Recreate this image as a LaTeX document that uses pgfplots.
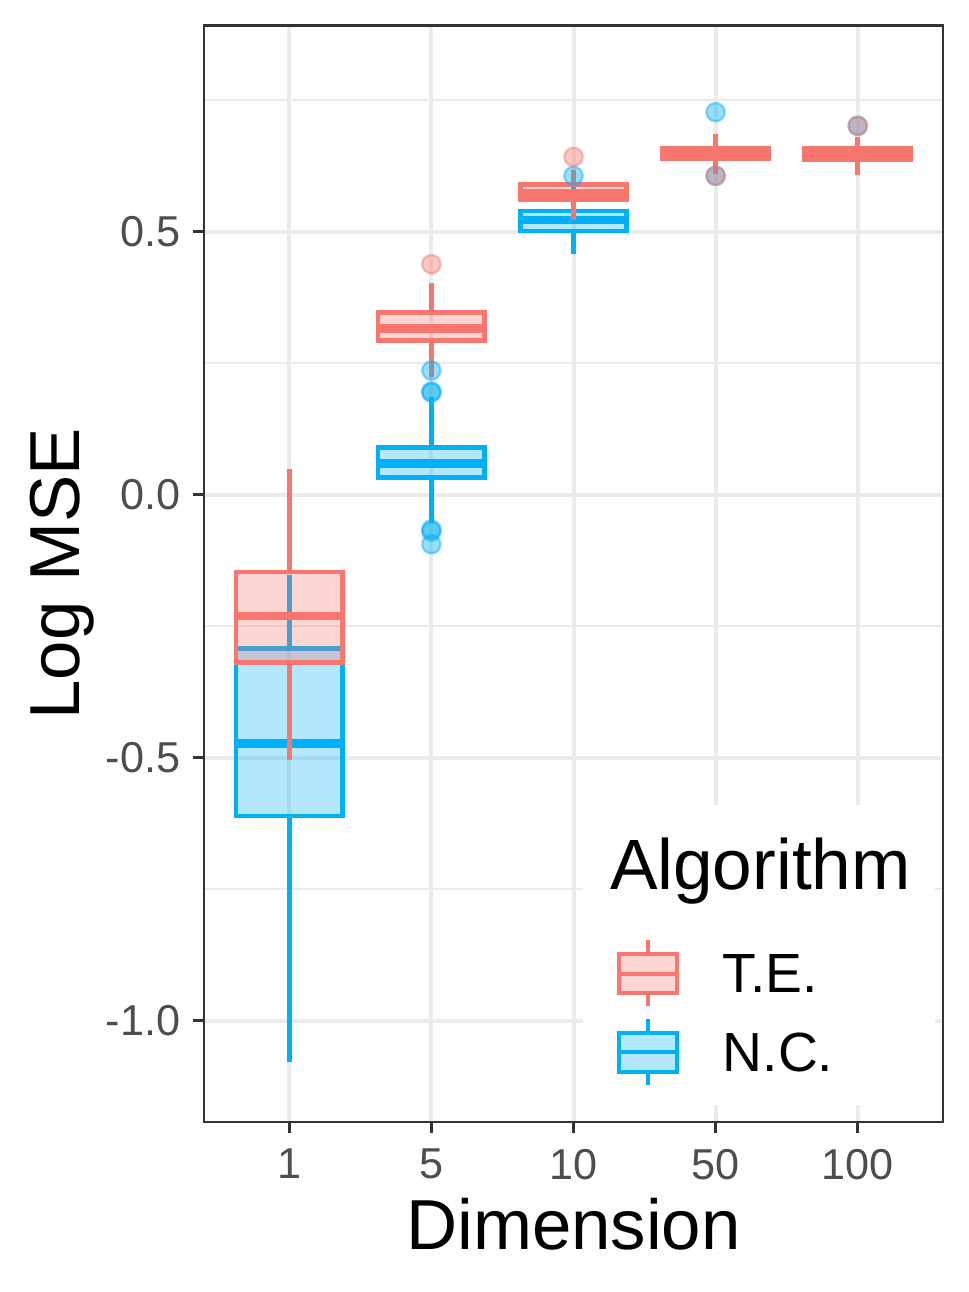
\documentclass[border=0pt]{standalone}
\usepackage{pgfplots}
\pgfplotsset{compat=1.18}
\usepgfplotslibrary{statistics}
\usepackage{fontspec}
\setmainfont{Liberation Sans}
\definecolor{tered}{HTML}{F8766D}
\definecolor{ncblue}{HTML}{00B0F6}
\definecolor{gridc}{HTML}{EBEBEB}
\definecolor{axc}{HTML}{333333}
\definecolor{tickc}{HTML}{4D4D4D}
\pgfplotsset{
  ncbox/.style={draw=ncblue, fill=ncblue, fill opacity=0.3, line width=1.2pt,
    mark=*, mark size=2.3pt,
    mark options={fill=ncblue, fill opacity=0.4, draw=ncblue, draw opacity=0.45, line width=0.6pt}},
  tebox/.style={draw=tered, fill=tered, fill opacity=0.3, line width=1.2pt,
    mark=*, mark size=2.3pt,
    mark options={fill=tered, fill opacity=0.4, draw=tered, draw opacity=0.45, line width=0.6pt}},
}
\begin{document}
\begin{tikzpicture}
\path[use as bounding box] (0,0) rectangle (242.25pt,323pt);
\begin{axis}[
  at={(51pt,42.425pt)}, anchor=south west,
  scale only axis, width=184.75pt, height=274.2pt,
  xmin=-0.6, xmax=4.6, ymin=-1.1927, ymax=0.8917,
  xtick={0,1,2,3,4}, xticklabels={1,5,10,50,100},
  ytick={-1,-0.5,0,0.5}, yticklabels={-1.0,-0.5,0.0,0.5},
  minor ytick={-0.75,-0.25,0.25,0.75},
  xmajorgrids, ymajorgrids, yminorgrids,
  major grid style={gridc, line width=1pt},
  minor grid style={gridc, line width=0.5pt},
  tick align=outside, tick pos=left,
  major tick length=2.75pt, minor tick length=0pt,
  tick style={axc, line width=0.8pt},
  axis line style={axc, line width=0.55pt},
  /pgf/number format/assume math mode=true,
  ticklabel style={font=\fontsize{10.8}{13}\selectfont, text=tickc},
  xticklabel style={anchor=north, inner sep=0pt, yshift=-3.7pt},
  yticklabel style={anchor=east, inner sep=0pt, xshift=-3pt},
  xlabel={Dimension},
  xlabel style={font=\fontsize{17.7}{20}\selectfont, at={(axis description cs:0.5,-0.1164)}, anchor=base, inner sep=0pt},
  ylabel={Log MSE},
  ylabel style={font=\fontsize{17.7}{20}\selectfont, at={(axis description cs:-0.169,0.5)}, anchor=base, inner sep=0pt},
  boxplot/draw direction=y,
  boxplot/box extend=0.75,
  boxplot/whisker extend=0,
  boxplot/every median/.style={line width=2.2pt},
]
% ---- N.C. (drawn first) ----
\addplot[ncbox, boxplot prepared={draw position=0, lower whisker=-1.078, lower quartile=-0.6106, median=-0.473, upper quartile=-0.2923, upper whisker=-0.152}]
  table[row sep=\\, y index=0] {y\\};
\addplot[ncbox, boxplot prepared={draw position=1, lower whisker=-0.054, lower quartile=0.0327, median=0.0597, upper quartile=0.0897, upper whisker=0.185}]
  table[row sep=\\, y index=0] {y\\ 0.236\\ 0.196\\ 0.194\\ -0.066\\ -0.070\\ -0.094\\};
\addplot[ncbox, boxplot prepared={draw position=2, lower whisker=0.457, lower quartile=0.501, median=0.522, upper quartile=0.539, upper whisker=0.585}]
  table[row sep=\\, y index=0] {y\\ 0.606\\};
\addplot[ncbox, boxplot prepared={draw position=3, lower whisker=0.612, lower quartile=0.638, median=0.648, upper quartile=0.658, upper whisker=0.683}]
  table[row sep=\\, y index=0] {y\\ 0.606\\ 0.727\\};
\addplot[ncbox, boxplot prepared={draw position=4, lower whisker=0.610, lower quartile=0.637, median=0.648, upper quartile=0.657, upper whisker=0.678}]
  table[row sep=\\, y index=0] {y\\ 0.701\\};
% ---- T.E. ----
\addplot[tebox, boxplot prepared={draw position=0, lower whisker=-0.504, lower quartile=-0.3193, median=-0.2305, upper quartile=-0.147, upper whisker=0.0496}]
  table[row sep=\\, y index=0] {y\\};
\addplot[tebox, boxplot prepared={draw position=1, lower whisker=0.223, lower quartile=0.293, median=0.316, upper quartile=0.346, upper whisker=0.403}]
  table[row sep=\\, y index=0] {y\\ 0.438\\};
\addplot[tebox, boxplot prepared={draw position=2, lower whisker=0.522, lower quartile=0.560, median=0.573, upper quartile=0.589, upper whisker=0.617}]
  table[row sep=\\, y index=0] {y\\ 0.642\\};
\addplot[tebox, boxplot prepared={draw position=3, lower whisker=0.609, lower quartile=0.639, median=0.649, upper quartile=0.659, upper whisker=0.685}]
  table[row sep=\\, y index=0] {y\\ 0.606\\};
\addplot[tebox, boxplot prepared={draw position=4, lower whisker=0.608, lower quartile=0.637, median=0.648, upper quartile=0.658, upper whisker=0.679}]
  table[row sep=\\, y index=0] {y\\ 0.701\\};
\end{axis}
% ---- legend ----
\fill[white] (145.75pt,46.75pt) rectangle (233.75pt,121.75pt);
\node[anchor=base west, inner sep=0pt, font=\fontsize{17.8}{21}\selectfont] at (152.3pt,100.7pt) {Algorithm};
\draw[tered, line width=1pt] (162pt,71.5pt) -- (162pt,88pt);
\filldraw[draw=tered, fill=tered!30!white, line width=1pt] (154.75pt,74.75pt) rectangle (169.25pt,84.5pt);
\draw[tered, line width=1pt] (154.75pt,79.6pt) -- (169.25pt,79.6pt);
\node[anchor=base west, inner sep=0pt, font=\fontsize{13.8}{16}\selectfont] at (180.5pt,74.75pt) {T.E.};
\draw[ncblue, line width=1pt] (162pt,51.75pt) -- (162pt,68.25pt);
\filldraw[draw=ncblue, fill=ncblue!30!white, line width=1pt] (154.75pt,55.1pt) rectangle (169.25pt,64.85pt);
\draw[ncblue, line width=1pt] (154.75pt,60pt) -- (169.25pt,60pt);
\node[anchor=base west, inner sep=0pt, font=\fontsize{13.8}{16}\selectfont] at (180.5pt,55.1pt) {N.C.};
\end{tikzpicture}
\end{document}
